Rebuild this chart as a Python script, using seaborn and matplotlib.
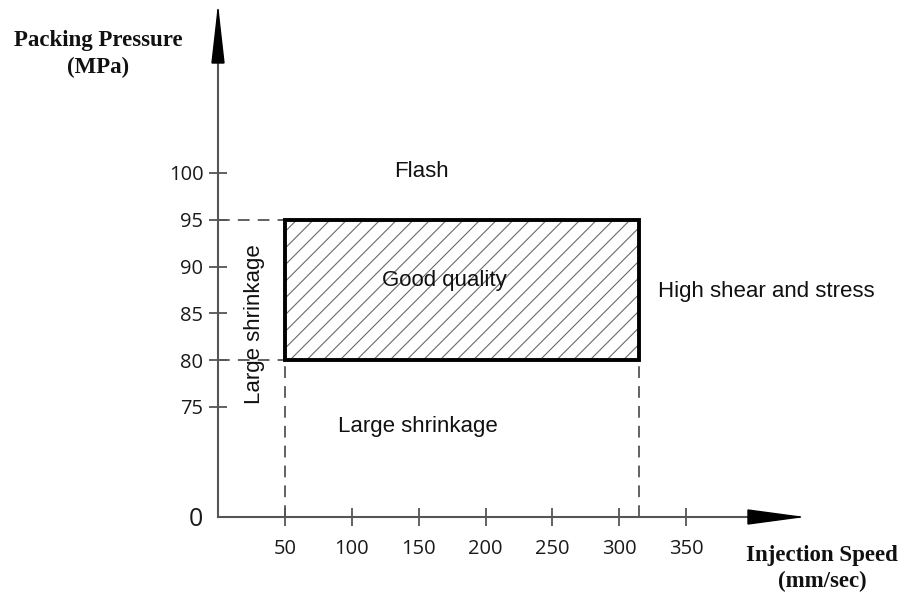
import numpy as np
import matplotlib
matplotlib.use("Agg")
import matplotlib.pyplot as plt
from matplotlib.patches import Rectangle, Polygon
from matplotlib import font_manager
import seaborn as sns

# CHART DATA
speed_ticks = [50, 100, 150, 200, 250, 300, 350]
pressure_ticks = [0, 75, 80, 85, 90, 95, 100]
window_speed = [50, 315]        # good-quality speed range (mm/sec)
window_pressure = [80, 95]      # good-quality pressure range (MPa)
speed_limits = [0, 435]
pressure_limits = [0, 117.4]

# REGION LABELS
region_names = ["Flash", "Good quality", "High shear and stress", "Large shrinkage", "Large shrinkage"]
region_x = [152, 169, 410, 149.5, 27]
region_y = [100.2, 88.5, 87.3, 72.9, 83.9]
region_rot = [0, 0, 0, 0, 90]

# BROKEN Y AXIS: 0..70 squeezed into a short segment under the 70+ range
BREAK = 70.0
LOW = 63.25


def fwd(v):
    v = np.asarray(v, dtype=float)
    return np.where(v < BREAK, LOW + v * (BREAK - LOW) / BREAK, v)


def inv(u):
    u = np.asarray(u, dtype=float)
    return np.where(u < BREAK, (u - LOW) * BREAK / (BREAK - LOW), u)


sns.set_theme(style="ticks")
plt.rcParams["hatch.linewidth"] = 0.8

names = {f.name for f in font_manager.fontManager.ttflist}
if "Liberation Sans Narrow" in names:
    note_font, note_size = "Liberation Sans Narrow", 19
else:
    note_font, note_size = "Liberation Sans", 16

axis_col = "#555555"

fig = plt.figure(figsize=(9.01, 5.98), dpi=100)
ax = fig.add_axes([218 / 901, 81 / 598, 582 / 901, 507 / 598])
ax.set_yscale("function", functions=(fwd, inv))
ax.set_xlim(speed_limits)
ax.set_ylim(pressure_limits)

# GOOD-QUALITY WINDOW (hatched)
ax.fill_between(window_speed, window_pressure[0], window_pressure[1],
                facecolor="white", edgecolor="#6a6a6a", hatch="//", linewidth=0, zorder=2)
ax.add_patch(Rectangle((window_speed[0], window_pressure[0]),
                       window_speed[1] - window_speed[0],
                       window_pressure[1] - window_pressure[0],
                       fill=False, edgecolor="black", linewidth=2.8, zorder=3))

# DASHED GUIDE LINES
dash = dict(color=axis_col, linewidth=1.3, linestyle=(0, (6.5, 4.5)), zorder=1)
for p in window_pressure:
    ax.plot([0, window_speed[0]], [p, p], **dash)
for s in window_speed:
    ax.plot([s, s], [0, window_pressure[0]], **dash)

# REGION TEXT
for name, x, y, r in zip(region_names, region_x, region_y, region_rot):
    ax.text(x, y, name, ha="center", va="center", rotation=r,
            fontsize=note_size, family=note_font, color="#111111", zorder=4)

# AXES STYLE
for side in ["top", "right"]:
    ax.spines[side].set_visible(False)
for side in ["left", "bottom"]:
    ax.spines[side].set_color(axis_col)
    ax.spines[side].set_linewidth(1.5)

ax.set_xticks(speed_ticks)
ax.set_yticks(pressure_ticks)
ax.set_xticklabels([str(t) for t in speed_ticks])
ax.set_yticklabels([str(t) for t in pressure_ticks])
ax.minorticks_off()
ax.tick_params(axis="x", bottom=True, direction="inout", length=13, width=1.3, color=axis_col,
               pad=9, labelsize=14.5, labelcolor="#1a1a1a")
ax.tick_params(axis="y", left=True, direction="inout", length=13, width=1.3, color=axis_col,
               pad=4, labelsize=14.5, labelcolor="#1a1a1a")
for lab in ax.get_xticklabels() + ax.get_yticklabels():
    lab.set_family("Open Sans")
zero_lab = ax.get_yticklabels()[0]
zero_lab.set_fontsize(18)
ax.yaxis.get_major_ticks()[0].tick1line.set_visible(False)

# ARROW HEADS
w, h = 582.0, 507.0
ax.add_patch(Polygon([(0, 1), (-6 / w, 1 - 53 / h), (6 / w, 1 - 53 / h)],
                     closed=True, transform=ax.transAxes, color="black", clip_on=False, zorder=5))
ax.add_patch(Polygon([(1, 0), (1 - 52 / w, -7 / h), (1 - 52 / w, 7 / h)],
                     closed=True, transform=ax.transAxes, color="black", clip_on=False, zorder=5))

# AXIS TITLES
fig.text(98 / 901, 1 - 54 / 598, "Packing Pressure\n(MPa)", ha="center", va="center",
         family="Liberation Serif", fontweight="bold", fontsize=16.5, linespacing=1.4,
         color="#111111")
fig.text(822 / 901, 1 - 569 / 598, "Injection Speed\n(mm/sec)", ha="center", va="center",
         family="Liberation Serif", fontweight="bold", fontsize=16.5, linespacing=1.3,
         color="#111111")

fig.savefig("out.png", dpi=100)
